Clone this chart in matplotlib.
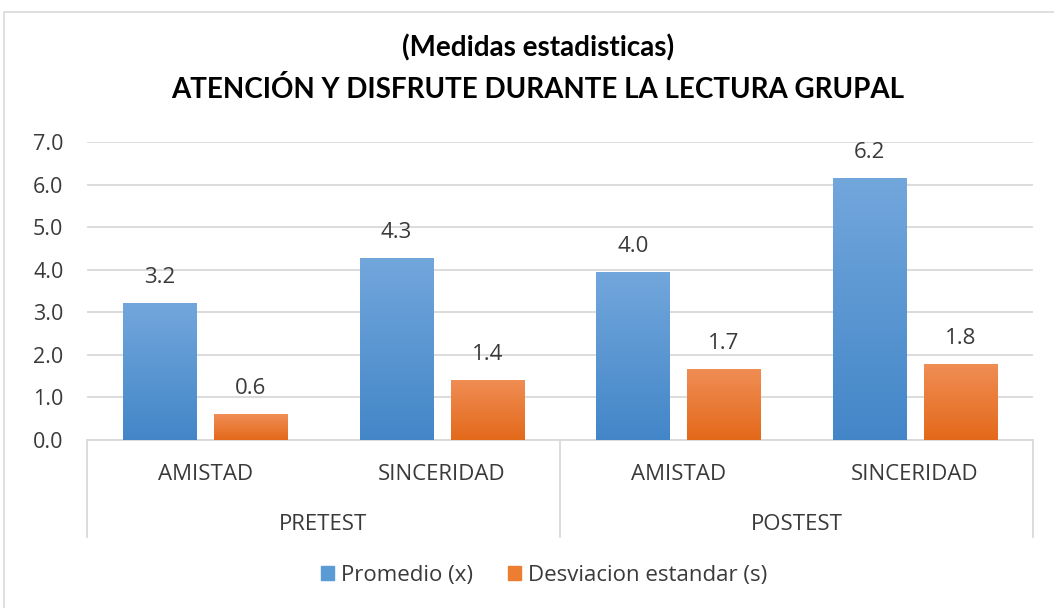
import matplotlib.pyplot as plt
import numpy as np
from matplotlib.patches import Rectangle
from matplotlib.transforms import blended_transform_factory

categorias = ['AMISTAD', 'SINCERIDAD', 'AMISTAD', 'SINCERIDAD']
grupos = ['PRETEST', 'POSTEST']
promedio = [3.21, 4.28, 3.95, 6.15]
desviacion = [0.60, 1.41, 1.67, 1.79]
series = ['Promedio (x)', 'Desviacion estandar (s)']
titulo = '(Medidas estadisticas)\nATENCIÓN Y DISFRUTE DURANTE LA LECTURA GRUPAL'

plt.rcParams['font.family'] = ['Open Sans', 'DejaVu Sans']

fig = plt.figure(figsize=(10.54, 6.08), dpi=100)
W, H = 1054, 608
ax = fig.add_axes([87 / W, (H - 440) / H, (1033 - 87) / W, (440 - 142) / H])

# chart border
fig.patches.append(Rectangle((4 / W, -0.1), 1.2, (H - 12) / H + 0.1, transform=fig.transFigure,
                             fill=False, edgecolor='#D9D9D9', linewidth=1.2))

x = np.arange(len(categorias))
w = 0.31
off = 0.192
b1 = ax.bar(x - off, promedio, w, color='#5B9BD5', label=series[0], zorder=2)
b2 = ax.bar(x + off, desviacion, w, color='#ED7D31', label=series[1], zorder=2)

# vertical gradients like the Excel fill
grad = np.linspace(0, 1, 256).reshape(-1, 1)
def gradient(bars, top, bottom):
    cmap = plt.matplotlib.colors.LinearSegmentedColormap.from_list('g', [bottom, top])
    for r in bars:
        x0, y0 = r.get_x(), r.get_y()
        im = ax.imshow(grad, extent=[x0, x0 + r.get_width(), y0, y0 + r.get_height()],
                       origin='lower', cmap=cmap, aspect='auto', zorder=2.5)
        im.set_clip_path(r)
        r.set_edgecolor('none')

gradient(b1, '#72A7DC', '#4386C8')
gradient(b2, '#F08E55', '#E3691A')

for bars in (b1, b2):
    ax.bar_label(bars, fmt='%.1f', padding=11, fontsize=16, color='#3A3A3A')

ax.set_xlim(-0.5, 3.5)
ax.set_ylim(0, 7)
ax.set_yticks(np.arange(0, 8, 1))
ax.set_yticklabels([f'{v:.1f}' for v in np.arange(0, 8, 1)])
ax.yaxis.grid(True, color='#D9D9D9', linewidth=1.3)
ax.set_axisbelow(True)
for s in ax.spines.values():
    s.set_visible(False)
ax.tick_params(axis='y', length=0, pad=17, labelsize=15.5, labelcolor='#3A3A3A')
ax.set_xticks(x)
ax.set_xticklabels(categorias)
ax.tick_params(axis='x', length=0, pad=17.5, labelsize=16, labelcolor='#3A3A3A')

# multi-level category axis
tr = blended_transform_factory(ax.transData, ax.transAxes)
ax.plot([-0.5, 3.5], [0, 0], color='#D9D9D9', lw=1.3, transform=tr, clip_on=False)
for xv in (-0.5, 1.5, 3.5):
    ax.plot([xv, xv], [0, -0.326], color='#D9D9D9', lw=1.3, transform=tr, clip_on=False)
for i, g in enumerate(grupos):
    ax.text(0.5 + 2 * i, -0.283, g, transform=tr, ha='center', va='center',
            fontsize=16, color='#3A3A3A')

fig.text(538 / W, (H - 48) / H, titulo.split('\n')[0], ha='center', va='center',
         fontsize=20, fontweight='bold', color='#000000', family=['Lato', 'DejaVu Sans'])
fig.text(538 / W, (H - 90) / H, titulo.split('\n')[1], ha='center', va='center',
         fontsize=20, fontweight='bold', color='#000000', family=['Lato', 'DejaVu Sans'])

fig.legend(handles=[Rectangle((0, 0), 1, 1, color='#5B9BD5'), Rectangle((0, 0), 1, 1, color='#ED7D31')],
           labels=series, loc='center', bbox_to_anchor=(544 / W, (H - 575) / H), ncol=2,
           frameon=False, fontsize=16, handlelength=0.6, handleheight=0.6,
           handletextpad=0.3, columnspacing=1.6, labelcolor='#3A3A3A')

fig.savefig('out.png', dpi=100)
